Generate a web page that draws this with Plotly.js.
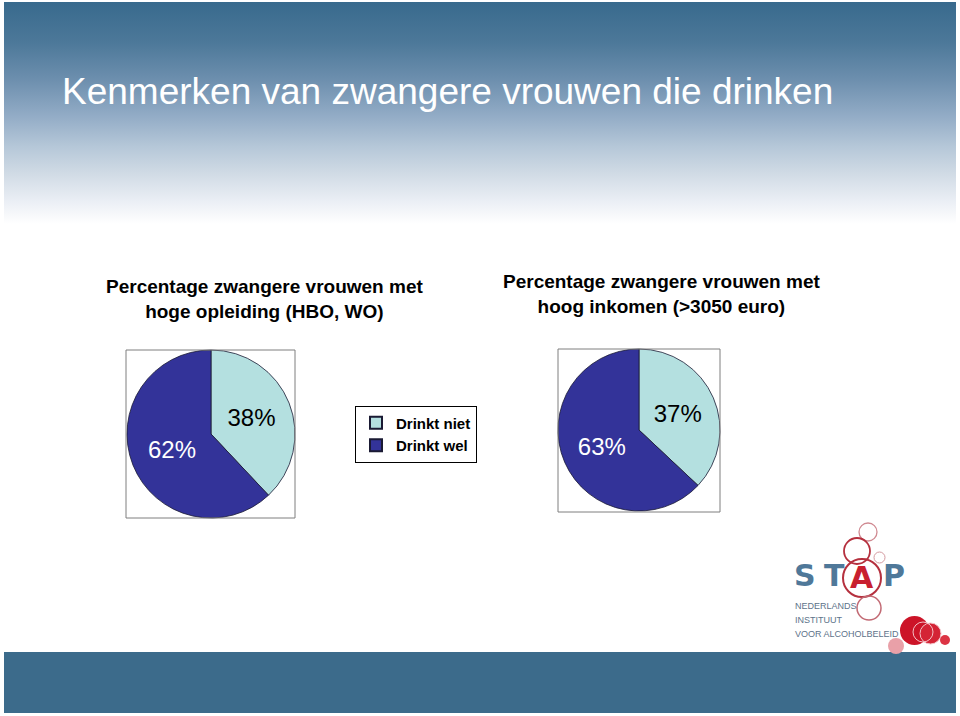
<!DOCTYPE html>
<html>
<head>
<meta charset="utf-8">
<script src="https://cdn.plot.ly/plotly-3.0.1.min.js"></script>
<style>
  html, body { margin: 0; padding: 0; background: #ffffff; }
  #wrap { position: relative; width: 960px; height: 716px; overflow: hidden; }
  #hdr { position: absolute; left: 4px; top: 2px; width: 952px; height: 222px;
    background: linear-gradient(to bottom, #386a8d 0%, #4c7899 18%, #6d8fae 35%, #94adc7 52%, #b5c7d8 65%, #d2dce6 78%, #ebeff5 90%, #ffffff 100%); }
  #chart { position: absolute; left: 0; top: 0; width: 960px; height: 716px; }
</style>
</head>
<body>
<div id="wrap">
  <div id="hdr"></div>
  <div id="chart"></div>
</div>
<script>
// ---- data ----
const categories = ["Drinkt niet", "Drinkt wel"];
const opleidingValues = [38, 62];
const inkomenValues = [37, 63];
const slideTitle = "Kenmerken van zwangere vrouwen die drinken";
const opleidingTitle = "Percentage zwangere vrouwen met<br>hoge opleiding (HBO, WO)";
const inkomenTitle = "Percentage zwangere vrouwen met<br>hoog inkomen (>3050 euro)";
const logoLines = ["NEDERLANDS", "INSTITUUT", "VOOR ALCOHOLBELEID"];

const W = 960, H = 716;
const px = x => x / W;
const py = y => 1 - y / H;

const colors = ["#b4e0e0", "#333399"];
const textColors = ["#000000", "#ffffff"];
const font = "Liberation Sans, Arial, sans-serif";

function pieTrace(values, x0, x1, y0, y1, showlegend) {
  return {
    type: "pie",
    labels: categories,
    values: values,
    sort: false,
    direction: "clockwise",
    rotation: 0,
    marker: { colors: colors, line: { color: "#1a1a33", width: 0.8 } },
    textinfo: "percent",
    texttemplate: "%{percent:.0%}",
    textposition: "inside",
    insidetextorientation: "horizontal",
    insidetextfont: { family: font, size: 24, color: textColors },
    hoverinfo: "none",
    showlegend: showlegend,
    domain: { x: [px(x0), px(x1)], y: [py(y1), py(y0)] }
  };
}

const data = [
  pieTrace(opleidingValues, 127, 295, 350, 518, true),
  pieTrace(inkomenValues, 558, 720, 349, 511, false)
];

const shapes = [
  // pie frames
  { type: "rect", xref: "paper", yref: "paper", x0: px(126), x1: px(295), y0: py(518), y1: py(350), line: { color: "#7f7f7f", width: 1 } },
  { type: "rect", xref: "paper", yref: "paper", x0: px(558), x1: px(720), y0: py(512), y1: py(349), line: { color: "#7f7f7f", width: 1 } },
  // footer bar
  { type: "rect", xref: "paper", yref: "paper", x0: px(4), x1: px(956), y0: py(713), y1: py(652), fillcolor: "#3c6b8b", line: { width: 0 }, layer: "below" },
  // logo outlined circles
  { type: "circle", xref: "paper", yref: "paper", x0: px(859), x1: px(877), y0: py(541), y1: py(523), line: { color: "#d08a92", width: 1.3 } },
  { type: "circle", xref: "paper", yref: "paper", x0: px(844), x1: px(870), y0: py(564), y1: py(538), line: { color: "#b5303e", width: 1.8 } },
  { type: "circle", xref: "paper", yref: "paper", x0: px(843), x1: px(881), y0: py(597), y1: py(559), line: { color: "#b5303e", width: 2 } },
  { type: "circle", xref: "paper", yref: "paper", x0: px(874), x1: px(885), y0: py(563), y1: py(552), line: { color: "#d49aa0", width: 1 } },
  { type: "circle", xref: "paper", yref: "paper", x0: px(857), x1: px(881), y0: py(620), y1: py(596), line: { color: "#c26a74", width: 1.5 } },
  // logo filled circles
  { type: "circle", xref: "paper", yref: "paper", x0: px(888), x1: px(904), y0: py(654), y1: py(638), fillcolor: "#e9a0a8", line: { width: 0 } },
  { type: "circle", xref: "paper", yref: "paper", x0: px(900), x1: px(929), y0: py(645), y1: py(616), fillcolor: "#cc1428", line: { width: 0 } },
  { type: "circle", xref: "paper", yref: "paper", x0: px(920), x1: px(941), y0: py(644), y1: py(623), fillcolor: "#d42436", line: { color: "#f3c0c6", width: 1 } },
  { type: "circle", xref: "paper", yref: "paper", x0: px(913), x1: px(933), y0: py(642), y1: py(622), fillcolor: "rgba(0,0,0,0)", line: { color: "#f3c0c6", width: 1 } },
  { type: "circle", xref: "paper", yref: "paper", x0: px(940), x1: px(950), y0: py(645), y1: py(635), fillcolor: "#dc3444", line: { width: 0 } }
];

const annotations = [
  { text: slideTitle, x: px(60), y: py(91), xref: "paper", yref: "paper", xanchor: "left", yanchor: "middle", showarrow: false,
    font: { family: font, size: 37, color: "#ffffff" } },
  { text: "<b>" + opleidingTitle + "</b>", x: px(264), y: py(299), xref: "paper", yref: "paper", xanchor: "center", yanchor: "middle", showarrow: false,
    font: { family: font, size: 19, color: "#000000" } },
  { text: "<b>" + inkomenTitle + "</b>", x: px(661), y: py(294), xref: "paper", yref: "paper", xanchor: "center", yanchor: "middle", showarrow: false,
    font: { family: font, size: 19, color: "#000000" } },
  // logo text
  { text: "<b>S</b>", x: px(805), y: py(575), xref: "paper", yref: "paper", xanchor: "center", yanchor: "middle", showarrow: false,
    font: { family: "DejaVu Sans, sans-serif", size: 30, color: "#4f7899" } },
  { text: "<b>T</b>", x: px(834), y: py(575), xref: "paper", yref: "paper", xanchor: "center", yanchor: "middle", showarrow: false,
    font: { family: "DejaVu Sans, sans-serif", size: 30, color: "#4f7899" } },
  { text: "<b>A</b>", x: px(862), y: py(577), xref: "paper", yref: "paper", xanchor: "center", yanchor: "middle", showarrow: false,
    font: { family: "DejaVu Sans, sans-serif", size: 30, color: "#c8202f" } },
  { text: "<b>P</b>", x: px(894), y: py(575), xref: "paper", yref: "paper", xanchor: "center", yanchor: "middle", showarrow: false,
    font: { family: "DejaVu Sans, sans-serif", size: 30, color: "#4f7899" } }
];
logoLines.forEach((t, i) => {
  annotations.push({ text: t, x: px(793), y: py(606 + 14 * i), xref: "paper", yref: "paper", xanchor: "left", yanchor: "middle", showarrow: false,
    font: { family: font, size: 9, color: "#5d738a" } });
});

const layout = {
  width: W, height: H,
  margin: { l: 0, r: 0, t: 0, b: 0 },
  paper_bgcolor: "rgba(0,0,0,0)",
  plot_bgcolor: "rgba(0,0,0,0)",
  showlegend: true,
  legend: {
    x: px(416), y: py(434), xanchor: "center", yanchor: "middle",
    bordercolor: "#000000", borderwidth: 1, bgcolor: "#ffffff",
    font: { family: font, size: 15, color: "#000000", weight: "bold" },
    itemsizing: "constant", tracegroupgap: 0
  },
  shapes: shapes,
  annotations: annotations
};

Plotly.newPlot("chart", data, layout, { displayModeBar: false, staticPlot: true });
</script>
</body>
</html>
